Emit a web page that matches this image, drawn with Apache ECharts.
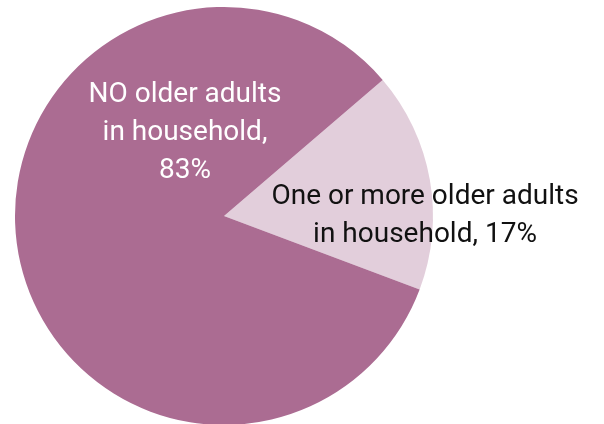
<!DOCTYPE html>
<html><head><meta charset="utf-8">
<script src="https://cdn.jsdelivr.net/npm/echarts@6/dist/echarts.min.js"></script>
<style>html,body{margin:0;padding:0;background:#fff}#c{width:604px;height:424px}</style>
</head><body><div id="c"></div>
<script>
const categories = ["One or more older adults\nin household", "NO older adults\nin household"];
const values = [17, 83];
const colors = ["#E2CEDB", "#AB6C92"];
const labelColors = ["#111111", "#ffffff"];

const chart = echarts.init(document.getElementById('c'), null, {renderer: 'canvas'});
chart.setOption({
  animation: false,
  series: [{
    type: 'pie',
    center: [224, 216],
    radius: [0, 209],
    startAngle: 40.6,
    clockwise: true,
    silent: true,
    data: categories.map((n, i) => ({
      name: n, value: values[i],
      itemStyle: {color: colors[i]},
      label: {color: labelColors[i]}
    })),
    label: {
      show: true,
      position: 'inside',
      fontFamily: 'Roboto',
      fontSize: 28,
      lineHeight: 38,
      align: 'center',
      formatter: p => p.dataIndex === 0 ? p.name + ', ' + p.value + '%' : p.name + ',\n' + p.value + '%'
    },
    labelLayout: function (p) {
      return p.dataIndex === 0
        ? {x: 425, y: 216, align: 'center', verticalAlign: 'middle'}
        : {x: 185, y: 133, align: 'center', verticalAlign: 'middle'};
    },
    labelLine: {show: false}
  }]
});
</script></body></html>
